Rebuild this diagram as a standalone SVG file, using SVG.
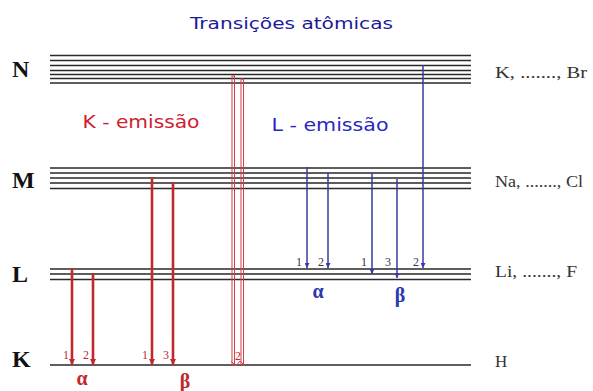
<svg xmlns="http://www.w3.org/2000/svg" width="593" height="391" viewBox="0 0 593 391">
<style>
.lvl{stroke:#2a2a2a;stroke-width:1.4;fill:none}
.big{font-family:"Liberation Serif",serif;font-weight:bold;font-size:24px;fill:#111}
.el{font-family:"Liberation Serif",serif;font-size:17px;fill:#333}
.red{stroke:#c0282c;stroke-width:2.6;fill:none}
.redh{stroke:#d04048;stroke-width:1;fill:none}
.blue{stroke:#3a3aa0;stroke-width:1.5;fill:none}
.nr{font-family:"Liberation Serif",serif;font-size:12px;fill:#c0282c}
.nb{font-family:"Liberation Serif",serif;font-size:12px;fill:#333350}
.gr{font-family:"Liberation Serif",serif;font-weight:bold;font-size:20px}
</style>
<defs>
<marker id="ar" markerUnits="userSpaceOnUse" markerWidth="7" markerHeight="6" refX="6" refY="3" orient="auto" viewBox="0 0 6 6">
<path d="M0,0 L6,3 L0,6 Z" fill="#c0282c"/>
</marker>
<marker id="ab" markerUnits="userSpaceOnUse" markerWidth="6" markerHeight="5" refX="6" refY="3" orient="auto" viewBox="0 0 6 6">
<path d="M0,0 L6,3 L0,6 Z" fill="#3a3aa0"/>
</marker>
</defs>
<rect width="593" height="391" fill="#fff"/>
<text x="291.5" y="29" text-anchor="middle" font-family="DejaVu Sans,sans-serif" font-size="16" fill="#1a1a9a" textLength="203" lengthAdjust="spacingAndGlyphs">Transições atômicas</text>
<g id="level-N">
<path class="lvl" d="M50,55.5H471M50,60.5H471M50,65.5H471M50,70.5H471M50,74.5H471M50,78.5H471M50,83H471"/>
<text class="big" x="12" y="77">N</text>
<text class="el" x="495" y="78" textLength="92" lengthAdjust="spacingAndGlyphs">K, ......., Br</text>
</g>
<g id="level-M">
<path class="lvl" d="M50,168H471M50,173H471M50,178H471M50,183H471M50,188.5H471"/>
<text class="big" x="12" y="188">M</text>
<text class="el" x="495" y="187" textLength="88" lengthAdjust="spacingAndGlyphs">Na, ......., Cl</text>
</g>
<g id="level-L">
<path class="lvl" d="M50,269H471M50,274H471M50,279.5H471"/>
<text class="big" x="12" y="282">L</text>
<text class="el" x="495" y="277" textLength="82" lengthAdjust="spacingAndGlyphs">Li,  ......., F</text>
</g>
<g id="level-K">
<path class="lvl" d="M50,365H471"/>
<text class="big" x="12" y="367">K</text>
<text class="el" x="495" y="367">H</text>
</g>
<g id="labels">
<text x="141" y="128" text-anchor="middle" font-family="DejaVu Sans,sans-serif" font-size="17" fill="#d02030" textLength="117" lengthAdjust="spacingAndGlyphs">K - emissão</text>
<text x="330" y="131" text-anchor="middle" font-family="DejaVu Sans,sans-serif" font-size="17" fill="#2828c0" textLength="117" lengthAdjust="spacingAndGlyphs">L - emissão</text>
</g>
<g id="connectors">
<line class="red" x1="72" y1="268" x2="72" y2="365" marker-end="url(#ar)"/>
<line class="red" x1="93" y1="273" x2="93" y2="365" marker-end="url(#ar)"/>
<line class="red" x1="152" y1="177" x2="152" y2="365" marker-end="url(#ar)"/>
<line class="red" x1="173" y1="182" x2="173" y2="365" marker-end="url(#ar)"/>
<rect class="redh" x="232" y="76" width="2.5" height="289"/>
<rect class="redh" x="241" y="79" width="2.5" height="286"/>
<path class="redh" d="M231,361 L236,366 L240,361 L245,366"/>
<line class="blue" x1="307" y1="167" x2="307" y2="268" marker-end="url(#ab)"/>
<line class="blue" x1="328" y1="173" x2="328" y2="268" marker-end="url(#ab)"/>
<line class="blue" x1="372" y1="173" x2="372" y2="274" marker-end="url(#ab)"/>
<line class="blue" x1="397" y1="179" x2="397" y2="278" marker-end="url(#ab)"/>
<line class="blue" x1="423" y1="65" x2="423" y2="268" marker-end="url(#ab)"/>
</g>
<g id="numbers">
<text class="nr" x="63" y="359">1</text>
<text class="nr" x="83" y="359">2</text>
<text class="nr" x="142" y="359">1</text>
<text class="nr" x="163" y="359">3</text>
<text class="nr" x="235" y="360">2</text>
<text class="nb" x="296" y="266">1</text>
<text class="nb" x="318" y="266">2</text>
<text class="nb" x="361" y="266">1</text>
<text class="nb" x="385" y="266">3</text>
<text class="nb" x="413" y="266">2</text>
</g>
<g id="greek">
<text class="gr" x="82" y="385" text-anchor="middle" fill="#c0282c">α</text>
<text class="gr" x="185" y="388" text-anchor="middle" fill="#c0282c">β</text>
<text class="gr" x="318" y="298" text-anchor="middle" fill="#2838b0">α</text>
<text class="gr" x="400" y="302" text-anchor="middle" fill="#2838b0">β</text>
</g>
</svg>
